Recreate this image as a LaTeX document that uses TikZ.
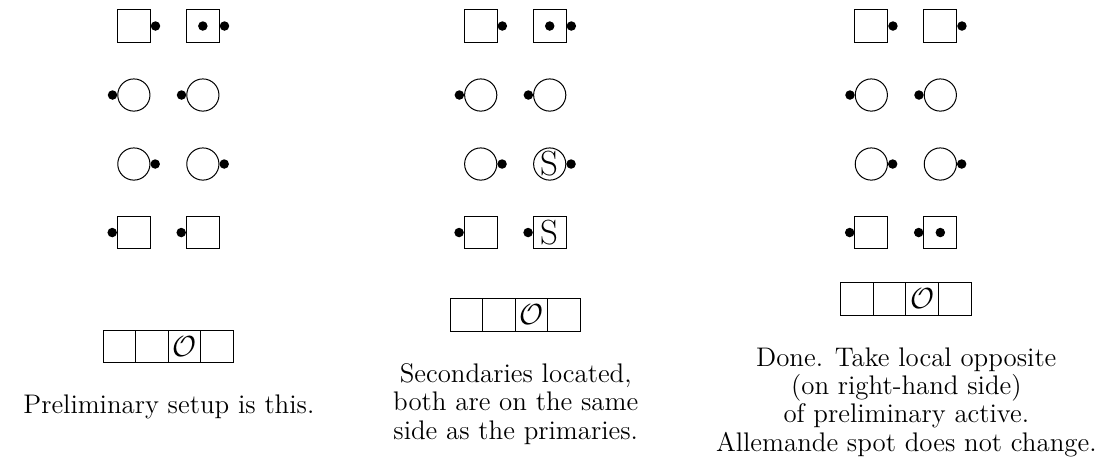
\documentclass[tikz,border=0pt]{standalone}
\usetikzlibrary{positioning}
\tikzset{
  seat/.style={draw, line width=0.5pt, minimum size=0.57cm, inner sep=0pt},
  ring/.style={draw, line width=0.5pt, circle, minimum size=0.56cm, inner sep=0pt},
  cell/.style={draw, line width=0.5pt, minimum size=0.567cm, inner sep=0pt},
  pin/.style={circle, fill, minimum size=0.165cm, inner sep=0pt, outer sep=0pt},
  note/.style={align=center, inner sep=0pt, font=\fontsize{13.3}{14}\selectfont},
}
\begin{document}
\begin{tikzpicture}[x=1.2cm, y=1.2cm]
\useasboundingbox (0,0) rectangle (16.116,-6.725);
% four rows of two per panel
\foreach \p/\cx/\s in {a/2.44/{}, b/7.467/S, c/13.128/{}} {
  \node[seat] (\p-1L) at ({\cx-0.5},-0.377) {};
  \node[seat] (\p-1R) at ({\cx+0.5},-0.377) {};
  \node[ring] (\p-2L) at ({\cx-0.5},-1.377) {};
  \node[ring] (\p-2R) at ({\cx+0.5},-1.377) {};
  \node[ring] (\p-3L) at ({\cx-0.5},-2.377) {};
  \node[ring, font=\LARGE] (\p-3R) at ({\cx+0.5},-2.377) {\s};
  \node[seat] (\p-4L) at ({\cx-0.5},-3.37) {};
  \node[seat, font=\LARGE] (\p-4R) at ({\cx+0.5},-3.37) {\s};
  \foreach \r/\side/\opp in {1/east/west, 2/west/east, 3/east/west, 4/west/east}
    \foreach \c in {L,R}
      \node[pin, anchor=\opp] (\p-d\r\c) at (\p-\r\c.\side) {};
}
\node[pin] (a-c1) at (a-1R) {};
\node[pin] (b-c1) at (b-1R) {};
\node[pin] (c-c4) at (c-4R) {};
% allemande strips
\foreach \p/\cx/\cy in {a/2.44/-5.02, b/7.467/-4.561, c/13.128/-4.33} {
  \foreach \k in {0,...,3}
    \node[cell] (\p-s\k) at ({\cx+(\k-1.5)*0.4725},\cy) {};
  \node[font=\Large] (\p-o) at (\p-s2) {$\mathcal{O}$};
}
\node[note, below=0.55cm of a-s1.south east] (a-txt) {Preliminary setup is this.};
\node[note, below=0.55cm of b-s1.south east] (b-txt) {Secondaries located,\\both are on the same\\side as the primaries.};
\node[note, below=0.55cm of c-s1.south east] (c-txt) {Done. Take local opposite\\(on right-hand side)\\of preliminary active.\\Allemande spot does not change.};
\end{tikzpicture}
\end{document}
